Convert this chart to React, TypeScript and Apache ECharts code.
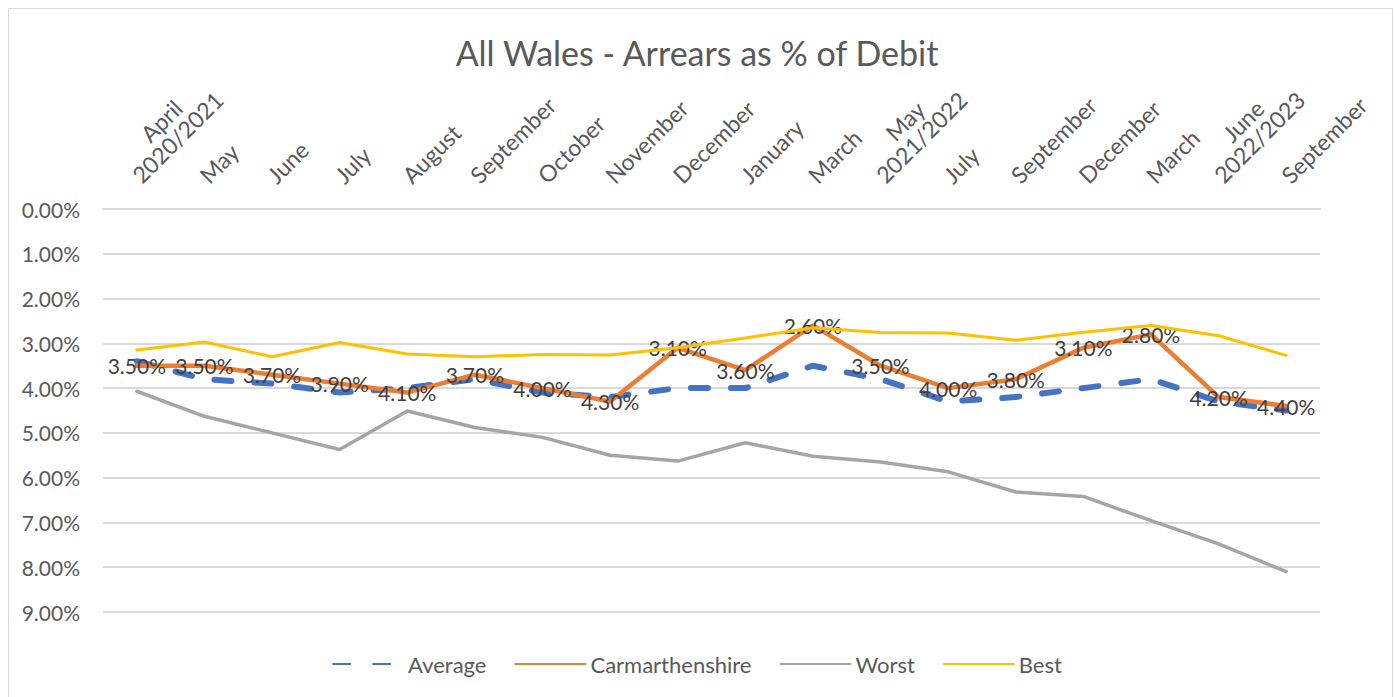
import React, { useEffect, useRef } from "react";
import * as echarts from "echarts";

const titleText = "All Wales - Arrears as % of Debit";

const categories = [
  "April\n2020/2021",
  "May",
  "June",
  "July",
  "August",
  "September",
  "October",
  "November",
  "December",
  "January",
  "March",
  "May\n2021/2022",
  "July",
  "September",
  "December",
  "March",
  "June\n2022/2023",
  "September",
];

const averageValues = [3.4, 3.8, 3.9, 4.1, 4.0, 3.8, 4.1, 4.2, 4.0, 4.0, 3.5, 3.8, 4.3, 4.2, 4.0, 3.8, 4.3, 4.5];
const carmarthenshireValues = [3.5, 3.5, 3.7, 3.9, 4.1, 3.7, 4.0, 4.3, 3.1, 3.6, 2.6, 3.5, 4.0, 3.8, 3.1, 2.8, 4.2, 4.4];
const worstValues = [4.07, 4.63, 5.0, 5.37, 4.51, 4.88, 5.1, 5.5, 5.63, 5.22, 5.52, 5.65, 5.87, 6.32, 6.42, 6.96, 7.48, 8.1];
const bestValues = [3.15, 2.97, 3.3, 2.98, 3.24, 3.3, 3.25, 3.26, 3.1, 2.88, 2.65, 2.76, 2.77, 2.93, 2.75, 2.6, 2.83, 3.27];

const yTicks = { min: 0, max: 9, interval: 1 };

const FONT = "Lato";

export default function App() {
  const ref = useRef<HTMLDivElement>(null);

  useEffect(() => {
    if (!ref.current) return;
    const chart = echarts.init(ref.current, null, { renderer: "svg" });

    const xFontSize = 23;
    const ctx = document.createElement("canvas").getContext("2d");
    let wideW = 100;
    if (ctx) {
      ctx.font = `${xFontSize}px ${FONT}`;
      wideW = Math.ceil(ctx.measureText("2020/2021").width);
    }

    const option: any = {
      animation: false,
      backgroundColor: "#ffffff",
      graphic: [
        {
          type: "rect",
          shape: { x: 8.5, y: 8.5, width: 1384, height: 700 },
          style: { fill: "none", stroke: "#D9D9D9", lineWidth: 1 },
          silent: true,
        },
      ],
      title: {
        text: titleText,
        left: "center",
        top: 30,
        textStyle: { fontFamily: FONT, fontSize: 34, fontWeight: "normal", color: "#595959" },
      },
      legend: {
        data: ["Average", "Carmarthenshire", "Worst", "Best"],
        left: "center",
        top: 648,
        itemWidth: 70,
        itemHeight: 14,
        itemGap: 28,
        itemStyle: { opacity: 0 },
        textStyle: { fontFamily: FONT, fontSize: 22, color: "#595959" },
      },
      grid: { left: 103, right: 74, top: 209, bottom: 85, containLabel: false },
      xAxis: {
        type: "category",
        position: "top",
        data: categories,
        boundaryGap: true,
        axisLine: { show: true, onZero: false, lineStyle: { color: "#D9D9D9", width: 2 } },
        axisTick: { show: false },
        splitLine: { show: false },
        axisLabel: {
          interval: 0,
          rotate: -45,
          margin: 15,
          padding: [0, 0, 0, 10],
          verticalAlign: "bottom",
          fontFamily: FONT,
          fontSize: xFontSize,
          color: "#595959",
          formatter: (v: string) =>
            v.includes("\n") ? v.split("\n").map((s) => `{c|${s}}`).join("\n") : v,
          rich: {
            c: { width: wideW, align: "center", fontFamily: FONT, fontSize: xFontSize, color: "#595959" },
          },
        },
      },
      yAxis: {
        type: "value",
        inverse: true,
        min: yTicks.min,
        max: yTicks.max,
        interval: yTicks.interval,
        axisLine: { show: false },
        axisTick: { show: false },
        splitLine: { lineStyle: { color: "#D9D9D9", width: 2 } },
        axisLabel: {
          margin: 23,
          fontFamily: FONT,
          fontSize: 21,
          color: "#595959",
          formatter: (v: number) => v.toFixed(2) + "%",
        },
      },
      series: [
        {
          name: "Average",
          type: "line",
          data: averageValues,
          symbol: "none",
          color: "#4472C4",
          lineStyle: { color: "#4472C4", width: 6, type: [17, 23], cap: "round" },
          z: 2,
        },
        {
          name: "Carmarthenshire",
          type: "line",
          data: carmarthenshireValues,
          symbol: "circle",
          symbolSize: 2,
          showSymbol: true,
          color: "#ED7D31",
          itemStyle: { color: "#ED7D31" },
          lineStyle: { color: "#ED7D31", width: 4.5, cap: "round", join: "round" },
          label: {
            show: true,
            position: "inside",
            fontFamily: FONT,
            fontSize: 21,
            color: "#404040",
            formatter: (p: any) => Number(p.value).toFixed(2) + "%",
          },
          z: 3,
        },
        {
          name: "Worst",
          type: "line",
          data: worstValues,
          symbol: "none",
          color: "#A5A5A5",
          lineStyle: { color: "#A5A5A5", width: 3.5, cap: "round", join: "round" },
          z: 4,
        },
        {
          name: "Best",
          type: "line",
          data: bestValues,
          symbol: "none",
          color: "#FFC000",
          lineStyle: { color: "#FFC000", width: 3, cap: "round", join: "round" },
          z: 5,
        },
      ],
    };

    chart.setOption(option);
    return () => chart.dispose();
  }, []);

  return (
    <div
      ref={ref}
      style={{ position: "absolute", left: 0, top: 0, width: 1394, height: 697, background: "#fff" }}
    />
  );
}
